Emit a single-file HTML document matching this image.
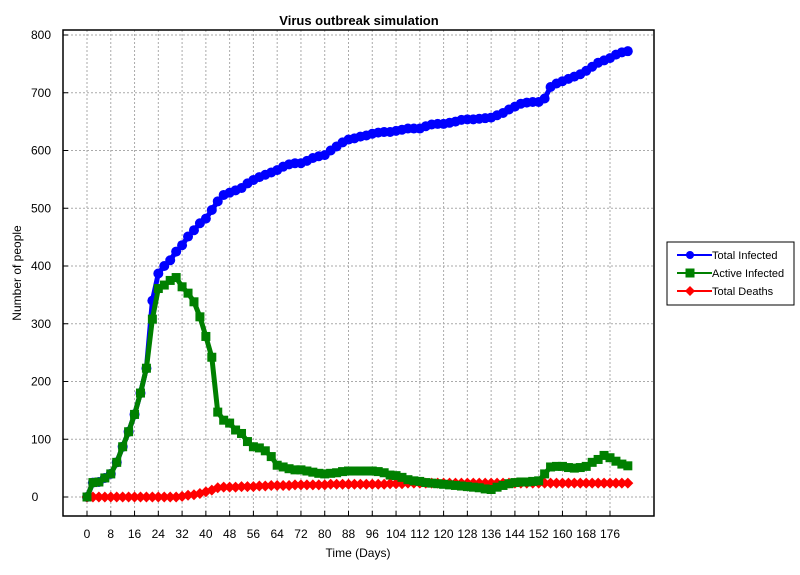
<!DOCTYPE html>
<html><head><meta charset="utf-8"><style>
body{margin:0;background:#fff;}
svg text{font-family:"Liberation Sans",sans-serif;}
</style></head><body>
<svg id="chart" width="800" height="570" xmlns="http://www.w3.org/2000/svg">
<rect width="800" height="570" fill="#fff"/>
<text x="359" y="25" text-anchor="middle" font-size="13" font-weight="bold">Virus outbreak simulation</text>
<g id="grid"></g>
<rect x="63" y="30" width="591" height="486" fill="none" stroke="#000" stroke-width="1.5"/>
<g id="axes"></g>
<g id="series"></g>
<text x="358" y="557" text-anchor="middle" font-size="12">Time (Days)</text>
<text transform="translate(21,273) rotate(-90)" text-anchor="middle" font-size="12">Number of people</text>
<g>
<rect x="667" y="242" width="127" height="63" fill="#fff" stroke="#000" stroke-width="1"/>
<g><line x1="677" y1="255" x2="712" y2="255" stroke="#0000ff" stroke-width="2"/><circle cx="690" cy="255" r="4" fill="#0000ff"/><text x="712" y="259" font-size="11">Total Infected</text></g>
<g><line x1="677" y1="273" x2="712" y2="273" stroke="#008000" stroke-width="2"/><rect x="685.5" y="268.5" width="9" height="9" fill="#008000"/><text x="712" y="277" font-size="11">Active Infected</text></g>
<g><line x1="677" y1="291" x2="712" y2="291" stroke="#ff0000" stroke-width="2"/><polygon points="690,286 695,291 690,296 685,291" fill="#ff0000"/><text x="712" y="295" font-size="11">Total Deaths</text></g>
</g>
</svg>
<script>
const days=[0,2,4,6,8,10,12,14,16,18,20,22,24,26,28,30,32,34,36,38,40,42,44,46,48,50,52,54,56,58,60,62,64,66,68,70,72,74,76,78,80,82,84,86,88,90,92,94,96,98,100,102,104,106,108,110,112,114,116,118,120,122,124,126,128,130,132,134,136,138,140,142,144,146,148,150,152,154,156,158,160,162,164,166,168,170,172,174,176,178,180,182];
const totalInfected=[0,25,26,33,40,60,87,113,143,180,223,340,387,400,410,425,436,451,462,474,482,497,512,523,527,531,535,543,549,554,558,562,566,572,576,578,578,582,587,590,592,600,607,614,619,621,624,626,629,631,632,632,634,636,638,638,638,642,645,646,646,648,650,653,654,654,655,656,657,661,665,671,676,681,683,684,684,690,710,716,720,724,728,732,738,745,752,756,760,766,770,772];
const activeInfected=[0,25,26,33,40,60,87,113,143,180,223,308,361,367,375,380,364,353,338,312,278,242,147,133,128,116,110,96,87,85,80,70,55,52,49,47,47,45,43,41,40,41,42,44,45,45,45,45,45,44,42,38,37,34,30,28,27,25,24,23,22,21,20,19,18,17,16,14,13,17,20,23,25,26,26,27,28,40,52,53,53,51,50,51,53,60,65,72,68,62,57,54];
const totalDeaths=[0,0,0,0,0,0,0,0,0,0,0,0,0,0,0,0,1,3,4,6,9,12,16,17,17,17,18,18,18,19,19,20,20,20,20,21,21,21,21,21,21,22,22,22,22,22,22,22,22,22,22,23,23,23,24,24,24,24,24,24,24,24,24,24,24,24,24,24,24,24,24,24,24,24,24,24,24,24,24,24,24,24,24,24,24,24,24,24,24,24,24,24];
const xTicks=[0,8,16,24,32,40,48,56,64,72,80,88,96,104,112,120,128,136,144,152,160,168,176];
const yTicks=[0,100,200,300,400,500,600,700,800];

const NS="http://www.w3.org/2000/svg";
const xs=d=>87+d*(523/176);
const ys=v=>497-v*(462/800);
function mk(tag,attrs,parent){const e=document.createElementNS(NS,tag);for(const k in attrs)e.setAttribute(k,attrs[k]);parent.appendChild(e);return e;}
const grid=document.getElementById('grid'),axes=document.getElementById('axes'),ser=document.getElementById('series');
xTicks.forEach(t=>{
  const x=xs(t);
  const g=mk('line',{x1:x,y1:30,x2:x,y2:516,stroke:'#aaa','stroke-dasharray':'2,2'},grid);
  
  
  const tk=mk('line',{x1:x,y1:511,x2:x,y2:516,stroke:'#000'},axes);
  
  
  const l=mk('text',{x:x,y:538,'text-anchor':'middle','font-size':'12'},axes);l.textContent=t;
  
  
});
yTicks.forEach(t=>{
  const y=ys(t);
  const g=mk('line',{x1:63,y1:y,x2:654,y2:y,stroke:'#aaa','stroke-dasharray':'2,2'},grid);
  
  
  const tk=mk('line',{x1:63,y1:y,x2:68,y2:y,stroke:'#000'},axes);
  
  
  const l=mk('text',{x:t===0?35:41,y:y+4,'text-anchor':'middle','font-size':'12'},axes);l.textContent=t;
  
  
});
function drawSeries(vals,color,shape,name){
  const g=mk('g',{},ser);
  
  
  const pts=vals.map((v,i)=>xs(days[i])+','+ys(v)).join(' ');
  const pl=mk('polyline',{points:pts,fill:'none',stroke:color,'stroke-width':5,'stroke-linejoin':'round'},g);
  
  
  vals.forEach((v,i)=>{
    const x=xs(days[i]),y=ys(v);let m;
    if(shape==='circle')m=mk('circle',{cx:x,cy:y,r:5,fill:color},g);
    else if(shape==='square')m=mk('rect',{x:x-4.5,y:y-4.5,width:9,height:9,fill:color},g);
    else m=mk('polygon',{points:`${x},${y-5.5} ${x+5.5},${y} ${x},${y+5.5} ${x-5.5},${y}`,fill:color},g);
    
    
  });
}
drawSeries(totalInfected,'#0000ff','circle','total-infected');
drawSeries(totalDeaths,'#ff0000','diamond','total-deaths');
drawSeries(activeInfected,'#008000','square','active-infected');
</script>
</body></html>
